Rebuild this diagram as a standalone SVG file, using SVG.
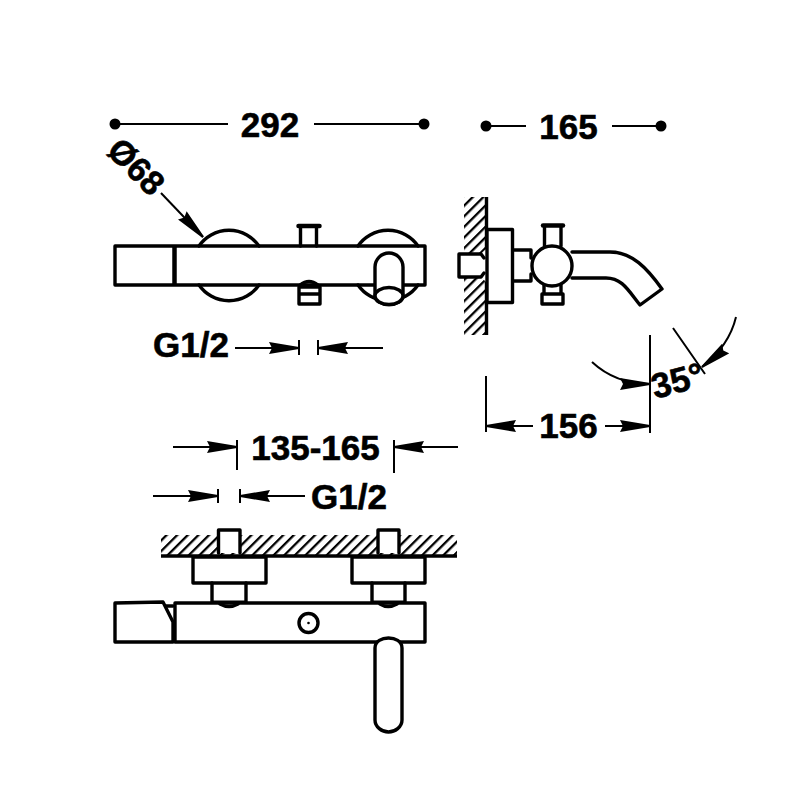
<svg xmlns="http://www.w3.org/2000/svg" width="800" height="800" viewBox="0 0 800 800">
<style>
.o{fill:none;stroke:#000;stroke-width:3.4;stroke-linejoin:round;stroke-linecap:round}
.w{fill:#fff;stroke:#000;stroke-width:3.4;stroke-linejoin:round;stroke-linecap:round}
.d{fill:none;stroke:#000;stroke-width:2}
.a{marker-end:url(#ah)}
.t{font-family:"Liberation Sans",Arial,sans-serif;font-weight:bold;font-size:35px;fill:#000;stroke:#000;stroke-width:.6}
.m{text-anchor:middle}
</style>
<defs>
<marker id="ah" markerUnits="userSpaceOnUse" markerWidth="32" markerHeight="13" refX="30" refY="6.500" orient="auto"><path d="M0 .5L30 5.500V7.500L0 12.500L3 6.500Z" fill="#000"/></marker>
<pattern id="h" width="7.500" height="7.500" patternUnits="userSpaceOnUse" patternTransform="rotate(45)"><rect width="2.300" height="7.500" fill="#000"/></pattern>
</defs>
<rect width="800" height="800" fill="#fff"/>

<g id="front-view">
<path class="o" d="M199 246A36.500 36.500 0 0 1 259 246M199 285A36.500 36.500 0 0 0 259 285M358 246A36.500 36.500 0 0 1 418 246M358 285A36.500 36.500 0 0 0 418 285"/>
<rect class="o" x="115" y="246" width="310" height="39"/>
<path d="M174.500 246V285" stroke="#000" stroke-width="4.500" fill="none"/>
<path class="o" d="M300.500 246V226.500M316.500 246V226.500"/>
<path d="M298.500 226H319.500" stroke="#000" stroke-width="4.500" stroke-linecap="round"/>
<path class="o" d="M300 285Q309 278 318 285M299 287H320V304H299ZM299 294H320"/>
<path class="w" d="M375 296V267A14 14 0 0 1 403 267V296A14 8.500 0 0 1 375 296Z"/>
<ellipse class="w" cx="389" cy="296" rx="14" ry="8.500"/>
</g>

<g id="side-view">
<rect x="464" y="197" width="22" height="138" fill="url(#h)"/>
<path d="M486.500 197V335" stroke="#000" stroke-width="3.400"/>
<path d="M459 254H486V277H459Z" fill="#fff"/>
<path d="M481 254L486 249V282L481 277Z" fill="#fff"/>
<path class="o" d="M484 258L481 254H459V277H481L484 273"/>
<rect class="w" x="487" y="229.500" width="25.500" height="73"/>
<path class="o" d="M513 250H531V258M531 274V281H513"/>
<path class="o" d="M572 252H610C632 252 647 268 662 289L640 305C628 290 622 278 606 278H572"/>
<path class="o" d="M544.500 246V226M561 246V226"/>
<path d="M543 225.500H563" stroke="#000" stroke-width="4.500" stroke-linecap="round"/>
<path class="o" d="M544 280V294M561 280V294"/>
<path class="w" d="M542 294H563V304H542Z"/>
<circle class="w" cx="552" cy="266" r="20"/>
</g>

<g id="top-view">
<rect x="161" y="535" width="296" height="20" fill="url(#h)"/>
<path d="M161 556H457" stroke="#000" stroke-width="3.400"/>
<path class="w" d="M218.500 553V530H240V553"/>
<path class="w" d="M378 553V530H399V553"/>
<rect class="o" x="193" y="557" width="73" height="26"/>
<rect class="o" x="352" y="557" width="73" height="26"/>
<path class="o" d="M212 583V602M246 583V602M372 583V602M405 583V602"/>
<rect class="w" x="175" y="603" width="250" height="39"/>
<path d="M212 602H246M372 602H405" stroke="#000" stroke-width="3"/>
<path class="o" d="M220 604Q229 609 238 604M380 604Q388 609 397 604"/>
<path class="o" d="M173 642H115V603L163 602L173 622Z"/>
<path class="o" d="M166 606H173"/>
<circle class="o" cx="308.500" cy="623" r="9.500"/>
<circle cx="308.500" cy="623" r="1.300" fill="#000"/>
<path class="w" d="M375 720V648C375 641 382 638 388.500 638C395 638 402 641 402 648V720C402 727 395 732 388.500 732C382 732 375 727 375 720Z"/>
</g>

<g id="connectors">
<path class="d" d="M115 124H228M314 124H424M486 126H526M612 126H661"/>
<circle cx="115" cy="124" r="5.500"/><circle cx="424" cy="124" r="5.500"/>
<circle cx="486" cy="126" r="5.500"/><circle cx="661" cy="126" r="5.500"/>
<path class="d a" d="M161 193L203 237"/>
<path class="d a" d="M235 348H299"/>
<path class="d a" d="M383 348H318"/>
<path class="d" d="M299 340V355M318 340V355"/>
<path class="d" d="M650 335V433M486 376V432M673 328L705 374"/>
<path class="d a" d="M592 362C606 375 625 384 650 384"/>
<path class="d a" d="M736 317C731 338 720 353 702 367"/>
<path class="d a" d="M533 426H486"/>
<path class="d a" d="M605 426H650"/>
<path class="d a" d="M173 447H237"/>
<path class="d a" d="M458 447H394"/>
<path class="d" d="M237 440V470M394 440V473"/>
<path class="d a" d="M153 496H218"/>
<path class="d a" d="M305 496H240"/>
<path class="d" d="M218 489V503M240 489V503"/>
</g>

<g id="labels">
<text class="t m" x="270" y="137">292</text>
<text class="t m" x="568.500" y="139">165</text>
<text class="t m" transform="translate(128 175) rotate(45)" style="font-size:34px">Ø68</text>
<text class="t" x="153" y="357">G1/2</text>
<text class="t" transform="translate(655 399) rotate(-15)">35°</text>
<text class="t m" x="568.500" y="438">156</text>
<text class="t m" x="315.500" y="460">135-165</text>
<text class="t" x="311" y="509">G1/2</text>
</g>
</svg>
